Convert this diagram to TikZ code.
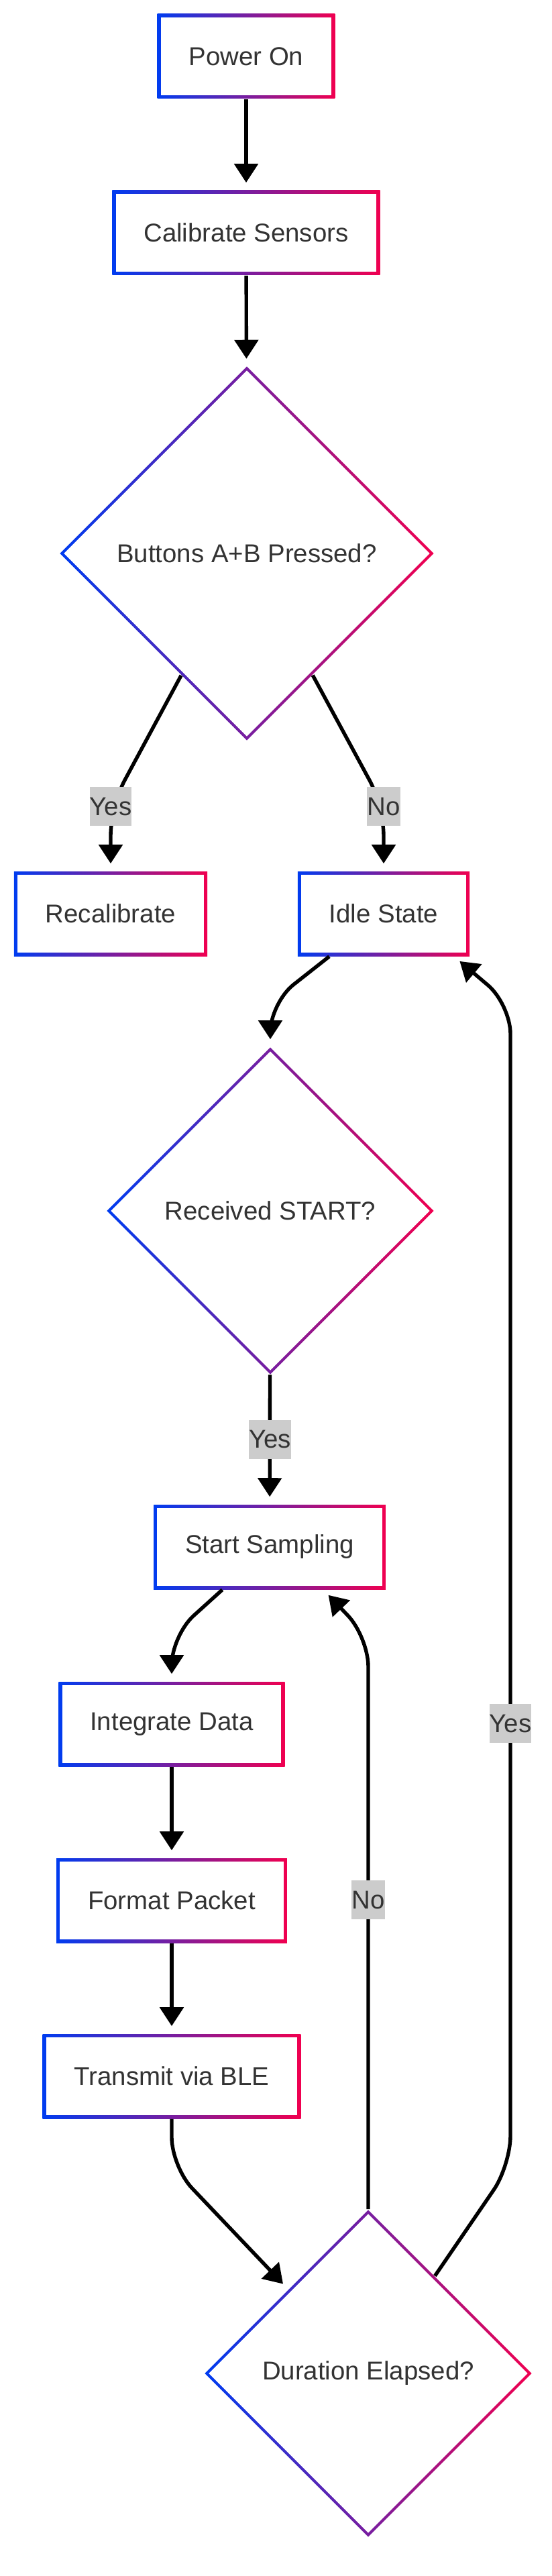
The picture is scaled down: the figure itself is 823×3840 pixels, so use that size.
\documentclass[tikz,border=0pt]{standalone}
\usepackage{fontspec}
\setmainfont{Liberation Sans}
\usetikzlibrary{shapes.geometric,arrows.meta}

\definecolor{bleft}{RGB}{0,60,240}
\definecolor{bright}{RGB}{240,0,80}
\definecolor{answergrey}{RGB}{204,204,204}
\definecolor{textgrey}{RGB}{51,51,51}

\tikzstyle{stepfont} = [font=\fontsize{9.6pt}{11.5pt}\selectfont, text=textgrey]
\tikzstyle{process} = [rectangle, stepfont, inner xsep=11.75pt, inner ysep=0pt, minimum height=31.5pt,
  left color=bleft, right color=bright,
  path picture={\fill[white] ([shift={(1.3pt,-1.3pt)}]path picture bounding box.north west) rectangle ([shift={(-1.3pt,1.3pt)}]path picture bounding box.south east);}]
\tikzstyle{decision} = [diamond, stepfont, inner sep=0pt,
  left color=bleft, right color=bright,
  path picture={\fill[white] ([yshift=-1.5pt]path picture bounding box.north) -- ([xshift=-1.5pt]path picture bounding box.east) -- ([yshift=1.5pt]path picture bounding box.south) -- ([xshift=1.5pt]path picture bounding box.west) -- cycle;}]
\tikzstyle{flow} = [draw, line width=1.35pt, -{Triangle[length=7pt,width=8.75pt]}, shorten >=2.75pt]
\tikzstyle{bent} = [rounded corners=11pt]
\tikzstyle{answer} = [stepfont, sharp corners, fill=answergrey, inner xsep=0pt, inner ysep=0pt, minimum height=14.5pt]

\begin{document}
\begin{tikzpicture}[x=0.25pt, y=-0.25pt]
  \useasboundingbox (0,0) rectangle (823,3840);

  \foreach \nodename/\x/\y/\steptext in {
    pwr/367/84/Power On,
    cal/367/347/Calibrate Sensors,
    rec/165/1362/Recalibrate,
    idle/572/1362/Idle State,
    ss/402/2306/Start Sampling,
    intg/256/2570/Integrate Data,
    fmt/256/2833/Format Packet,
    tx/256/3095/Transmit via BLE}
  {
    \node[process] (\nodename) at (\x,\y) {\steptext};
  }

  \foreach \nodename/\x/\y/\size/\steptext in {
    bab/368/825/139.5pt/Buttons A+B Pressed?,
    rs/403/1805/122pt/Received START?,
    dur/549/3538/122pt/Duration Elapsed?}
  {
    \node[decision, minimum size=\size] (\nodename) at (\x,\y) {\steptext};
  }

  %edges or lines
  \path
  \foreach \startnode/\endnode in {pwr/cal, cal/bab, intg/fmt, fmt/tx}
  {
    (\startnode) edge[flow] (\endnode)
  };
  \path (rs) edge[flow] node[answer] {Yes} (ss);

  \draw[flow, bent] (bab) -- (165,1202) node[answer] {Yes} -- (rec);
  \draw[flow, bent] (bab) -- (572,1202) node[answer] {No} -- (idle);
  \draw[flow, bent] (idle) -- (403,1495) -- (rs);
  \draw[flow, bent] (ss) -- (256,2438) -- (intg);
  \draw[flow, bent] (tx) -- (256,3230) -- (dur);

  %loops back
  \draw[flow, bent] (dur) -- (549,2832) node[answer] {No} -- (549,2440) -- ([xshift=20pt]ss.south);
  \draw[flow, bent] (dur) -- (761,3228) -- (761,2569) node[answer] {Yes} -- (761,1497) -- ([xshift=26.25pt]idle.south);

\end{tikzpicture}
\end{document}
